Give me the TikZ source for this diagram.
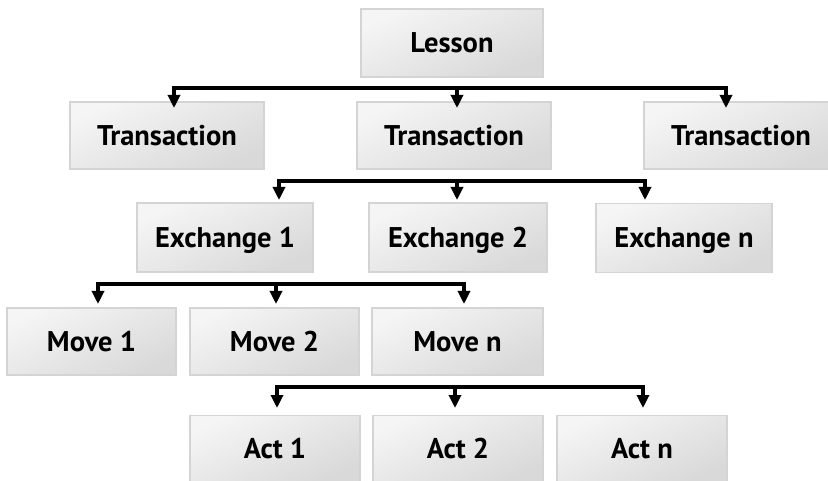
\documentclass[tikz,border=0pt]{standalone}
\usepackage{fontspec}
\setmainfont{PT Sans}
\usetikzlibrary{arrows.meta}
\tikzset{
  box/.style={draw=black!17, line width=1.3pt, top color=white!96!black, bottom color=black!15,
    shading angle=25, inner sep=0pt, text height=19.5pt, text depth=0pt,
    font=\fontsize{28.5}{32}\selectfont\bfseries, anchor=center},
  bus/.style={line width=3.2pt, line cap=rect},
  arr/.style={line width=3.2pt, -{Triangle[width=12pt,length=13pt]}},
}
\begin{document}
\begin{tikzpicture}[x=1pt,y=-1pt]
\useasboundingbox (0,0) rectangle (828,481);
% boxes
\node[box, minimum width=182pt, minimum height=68pt] (L) at (452,43) {Lesson};
\node[box, minimum width=194pt, minimum height=67pt] (T1) at (167,135.5) {Transaction};
\node[box, minimum width=194pt, minimum height=67pt] (T2) at (454,135.5) {Transaction};
\node[box, minimum width=194pt, minimum height=67pt] (T3) at (741,135.5) {Transaction};
\node[box, minimum width=176pt, minimum height=69pt] (E1) at (225,237.5) {Exchange 1};
\node[box, minimum width=178pt, minimum height=69pt] (E2) at (458,237.5) {Exchange 2};
\node[box, minimum width=176pt, minimum height=69pt] (En) at (684,238) {Exchange n};
\node[box, minimum width=169pt, minimum height=67pt] (M1) at (91.5,341.5) {Move 1};
\node[box, minimum width=169pt, minimum height=67pt] (M2) at (274.5,341.5) {Move 2};
\node[box, minimum width=171pt, minimum height=67pt] (Mn) at (457.5,341.5) {Move n};
\node[box, minimum width=170pt, minimum height=67pt] (A1) at (275,449) {Act 1};
\node[box, minimum width=170pt, minimum height=67pt] (A2) at (458,449) {Act 2};
\node[box, minimum width=170pt, minimum height=67pt] (An) at (642,449) {Act n};
% bus 1
\coordinate (a1) at (174,88); \coordinate (a2) at (457,88); \coordinate (a3) at (726,88);
\coordinate (t1) at (174,108); \coordinate (t2) at (457,108); \coordinate (t3) at (726,108);
\draw[bus] (a1) -- (a3);
\draw[arr] (a1) -- (t1);
\draw[arr] (a2) -- (t2);
\draw[arr] (a3) -- (t3);
% bus 2
\coordinate (b1) at (279,181); \coordinate (b2) at (457,181); \coordinate (b3) at (645,181);
\coordinate (u1) at (279,200); \coordinate (u2) at (457,200); \coordinate (u3) at (645,200);
\draw[bus] (b1) -- (b3);
\draw[arr] (b1) -- (u1);
\draw[arr] (b2) -- (u2);
\draw[arr] (b3) -- (u3);
% bus 3
\coordinate (c1) at (98,284); \coordinate (c2) at (276,284); \coordinate (c3) at (464,284);
\coordinate (v1) at (98,304); \coordinate (v2) at (276,304); \coordinate (v3) at (464,304);
\draw[bus] (c1) -- (c3);
\draw[arr] (c1) -- (v1);
\draw[arr] (c2) -- (v2);
\draw[arr] (c3) -- (v3);
% bus 4
\coordinate (d1) at (277,387); \coordinate (d2) at (455,387); \coordinate (d3) at (643,387);
\coordinate (w1) at (277,408); \coordinate (w2) at (455,408); \coordinate (w3) at (643,408);
\draw[bus] (d1) -- (d3);
\draw[arr] (d1) -- (w1);
\draw[arr] (d2) -- (w2);
\draw[arr] (d3) -- (w3);
\end{tikzpicture}
\end{document}
